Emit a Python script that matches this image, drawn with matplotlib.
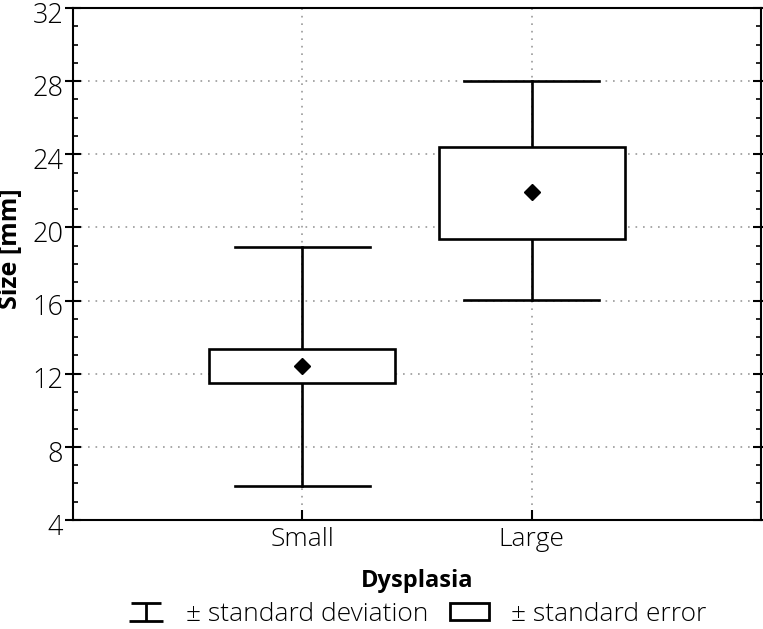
import numpy as np
import matplotlib
matplotlib.use("Agg")
import matplotlib.pyplot as plt
import matplotlib.transforms as mtransforms
from matplotlib.lines import Line2D
from matplotlib.patches import Patch, Rectangle
from matplotlib.path import Path

# ----------------------------
# Data
# ----------------------------
groups = ["Small", "Large"]
means = [12.42, 21.94]
se_low = [11.48, 19.38]
se_high = [13.36, 24.38]
sd_low = [5.88, 16.04]
sd_high = [18.95, 28.03]

plt.rcParams["font.family"] = ["Open Sans", "DejaVu Sans"]
plt.rcParams["font.size"] = 19

fig = plt.figure(figsize=(7.63, 6.29), dpi=100)
ax = fig.add_axes([0.0957, 0.1733, 0.9017, 0.814])

box_w = 0.81
cap_w = 0.59
lw = 1.9

for i, g in enumerate(groups):
    # whisker (sd)
    ax.plot([i, i], [sd_low[i], sd_high[i]], color="black", lw=lw, zorder=3)
    ax.plot([i - cap_w / 2, i + cap_w / 2], [sd_low[i], sd_low[i]], color="black", lw=lw, zorder=3)
    ax.plot([i - cap_w / 2, i + cap_w / 2], [sd_high[i], sd_high[i]], color="black", lw=lw, zorder=3)
    # box (se)
    ax.add_patch(Rectangle((i - box_w / 2, se_low[i]), box_w, se_high[i] - se_low[i],
                           facecolor="white", edgecolor="black", lw=lw, zorder=4))
    # mean
    ax.plot(i, means[i], marker="D", color="black", markersize=8, zorder=5)

ax.set_xlim(-1, 2)
ax.set_ylim(4, 32)
ax.set_xticks(range(len(groups)))
ax.set_xticklabels(groups, fontweight="light")
ax.set_yticks(np.arange(4, 33, 4))
ax.set_yticks(np.arange(4, 33, 1), minor=True)

ax.grid(True, which="major", linestyle=(0, (1, 3.5)), color="#999999", lw=1.2, zorder=0)
ax.set_axisbelow(True)

ax.tick_params(axis="x", which="major", direction="in", length=7, width=1.5, pad=5, top=False)
ax.tick_params(axis="y", which="major", direction="inout", length=12, width=1.5, pad=1,
               right=True, labelsize=19.5)
ax.tick_params(axis="y", which="minor", direction="in", length=3.5, width=1.2, right=True)
ax.tick_params(axis="x", which="minor", bottom=False, top=False)

# nudge y tick labels down a little so the digits sit centred on the ticks
shift = mtransforms.ScaledTranslation(0, -3 / 72, fig.dpi_scale_trans)
for lab in ax.get_yticklabels():
    lab.set_fontweight("light")
    lab.set_transform(lab.get_transform() + shift)

for s in ax.spines.values():
    s.set_linewidth(1.5)

ax.set_ylabel("Size [mm]", fontweight="bold", fontsize=18)
ax.yaxis.set_label_coords(-0.072, 0.53)
ax.set_xlabel("Dysplasia", fontweight="bold", fontsize=17, labelpad=12)

# legend handles
ibeam = Path([(-0.85, 0.5), (0.85, 0.5), (0, 0.5), (0, -0.5), (-1, -0.5), (1, -0.5)],
             [Path.MOVETO, Path.LINETO, Path.MOVETO, Path.LINETO, Path.MOVETO, Path.LINETO])
h_sd = Line2D([], [], linestyle="none", marker=ibeam, markersize=25,
              markeredgewidth=2, markeredgecolor="black", markerfacecolor="none")
h_se = Patch(facecolor="white", edgecolor="black", lw=2)

fig.legend([h_sd, h_se], ["± standard deviation", "± standard error"],
           loc="lower center", bbox_to_anchor=(0.545, -0.005), ncol=2, frameon=False,
           borderpad=0.1, borderaxespad=0.1,
           handlelength=1.5, handleheight=0.6, handletextpad=0.8, columnspacing=0.8,
           prop={"weight": "light", "size": 19})

fig.savefig("out.png", dpi=100)
